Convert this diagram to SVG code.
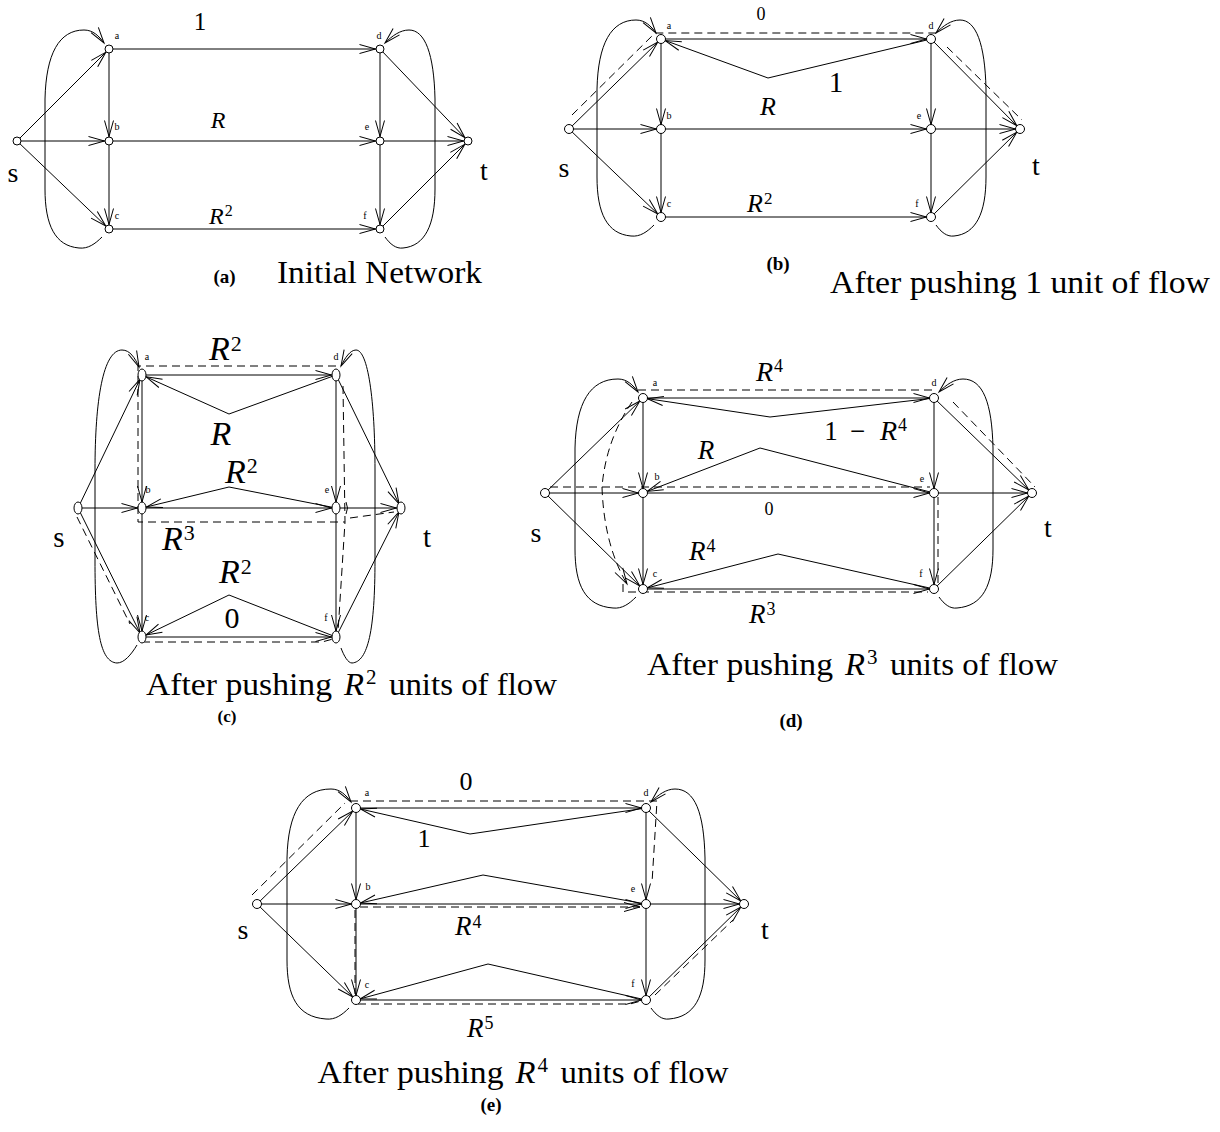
<svg xmlns="http://www.w3.org/2000/svg" width="1220" height="1132" viewBox="0 0 1220 1132">
<style>
.e{fill:none;stroke:#000;stroke-width:1}
.ea{fill:none;stroke:#000;stroke-width:1;marker-end:url(#ah)}
.e6{fill:none;stroke:#000;stroke-width:1;marker-end:url(#ah6)}
.eo{fill:none;stroke:#000;stroke-width:1;marker-end:url(#ah0)}
.dl{fill:none;stroke:#000;stroke-width:1;stroke-dasharray:8 5}
.dlo{fill:none;stroke:#000;stroke-width:1;stroke-dasharray:8 5;marker-end:url(#ah0)}
.n{fill:#fff;stroke:#000;stroke-width:1}
text{font-family:"Liberation Serif","Times New Roman",serif;fill:#000}
.nl{font-size:10px;text-anchor:middle}
.it{font-style:italic}
.bf{font-weight:bold;text-anchor:middle}
.mid{text-anchor:middle}
</style>
<defs>
<marker id="ah" viewBox="-17 -6 22 12" markerWidth="22" markerHeight="12" refX="4.5" refY="0" orient="auto" markerUnits="userSpaceOnUse" overflow="visible"><path d="M-16,-4.5 L0,0 L-16,4.5" fill="none" stroke="#000" stroke-width="1"/></marker>
<marker id="ah6" viewBox="-17 -6 24 12" markerWidth="24" markerHeight="12" refX="6" refY="0" orient="auto" markerUnits="userSpaceOnUse" overflow="visible"><path d="M-16,-4.5 L0,0 L-16,4.5" fill="none" stroke="#000" stroke-width="1"/></marker>
<marker id="ah0" viewBox="-17 -6 18 12" markerWidth="18" markerHeight="12" refX="0" refY="0" orient="auto" markerUnits="userSpaceOnUse" overflow="visible"><path d="M-16,-4.5 L0,0 L-16,4.5" fill="none" stroke="#000" stroke-width="1"/></marker>
</defs>
<rect width="1220" height="1132" fill="#fff"/>

<g id="connectors">
<!-- Panel A -->
<path class="ea" d="M17,141 L109,49"/>
<path class="ea" d="M17,141 L109,141"/>
<path class="ea" d="M17,141 L109,229"/>
<path class="ea" d="M109,49 L109,141"/>
<path class="ea" d="M109,141 L109,229"/>
<path class="ea" d="M109,49 L380,49"/>
<path class="ea" d="M109,141 L380,141"/>
<path class="ea" d="M109,229 L380,229"/>
<path class="ea" d="M380,49 L380,141"/>
<path class="ea" d="M380,141 L380,229"/>
<path class="ea" d="M380,49 L468,141"/>
<path class="ea" d="M380,141 L468,141"/>
<path class="ea" d="M380,229 L468,141"/>
<path class="eo" d="M102,237 C95,244 88,249 79,248 C55,246 45,225 45,189 L45,99 C46,54 59,30 84,30 C93,30 99,36 104,43"/>
<path class="eo" d="M385,237 C390,244 396,249 403,248 C425,246 435,225 435,189 L435,99 C434,54 425,30 409,30 C400,30 392,36 385,43"/>

<!-- Panel B -->
<path class="ea" d="M569,129 L661,39"/>
<path class="ea" d="M569,129 L661,129"/>
<path class="ea" d="M569,129 L661,217"/>
<path class="ea" d="M661,39 L661,129"/>
<path class="ea" d="M661,129 L661,217"/>
<path class="ea" d="M661,39 L931,39"/>
<path class="ea" d="M661,129 L931,129"/>
<path class="ea" d="M661,217 L931,217"/>
<path class="ea" d="M931,39 L931,129"/>
<path class="ea" d="M931,129 L931,217"/>
<path class="ea" d="M931,39 L1020,129"/>
<path class="ea" d="M931,129 L1020,129"/>
<path class="ea" d="M931,217 L1020,129"/>
<path class="ea" d="M931,39 L768,78 L661,39"/>
<path class="eo" d="M654,225 C647,232 640,237 631,236 C607,234 597,213 597,177 L597,89 C598,44 611,20 636,20 C645,20 651,26 656,33"/>
<path class="eo" d="M936,225 C941,232 947,237 954,236 C976,234 986,213 986,177 L986,89 C985,44 976,20 960,20 C951,20 943,26 936,33"/>
<path class="dl" d="M572,115 L655,33 L937,33"/>
<path class="dl" d="M947,47 L1022,120"/>

<!-- Panel C -->
<path class="ea" d="M78,508 L142,375"/>
<path class="ea" d="M78,508 L142,508"/>
<path class="ea" d="M78,508 L142,637"/>
<path class="e6" d="M142,375 L142,508"/>
<path class="e6" d="M142,508 L142,637"/>
<path class="ea" d="M142,375 L336,375"/>
<path class="ea" d="M142,508 L336,508"/>
<path class="ea" d="M142,637 L336,637"/>
<path class="e6" d="M336,375 L336,508"/>
<path class="e6" d="M336,508 L336,637"/>
<path class="ea" d="M336,375 L401,508"/>
<path class="ea" d="M336,508 L401,508"/>
<path class="ea" d="M336,637 L401,508"/>
<path class="ea" d="M336,375 L229,414 L142,375"/>
<path class="ea" d="M336,508 L229,487 L142,508"/>
<path class="ea" d="M336,637 L229,595 L142,637"/>
<path class="eo" d="M137,645 C131,655 124,663 117,663 C100,662 95,630 95,560 L95,470 C95,400 103,350 122,350 C130,350 135,358 139,367"/>
<path class="eo" d="M341,648 C344,656 348,663 352,663 C368,662 375,630 375,560 L375,470 C375,400 368,350 356,350 C350,350 345,358 341,366"/>
<path class="dl" d="M77,517 L130,624"/>
<path class="dl" d="M336,366 L138,366 L138,522 L345,522"/>
<path class="dl" d="M343,386 L345,522 L338,632"/>
<path class="dl" d="M142,642 L322,642 L333,639"/>
<path class="dl" d="M350,518 L394,512"/>
<path class="e" d="M346,502 Q349,508 346,514"/>

<!-- Panel D -->
<path class="ea" d="M545,493 L643,398"/>
<path class="ea" d="M545,493 L643,493"/>
<path class="ea" d="M545,493 L643,589"/>
<path class="ea" d="M643,398 L643,493"/>
<path class="ea" d="M643,493 L643,589"/>
<path class="ea" d="M643,398 L934,398"/>
<path class="ea" d="M643,493 L934,493"/>
<path class="ea" d="M643,589 L934,589"/>
<path class="ea" d="M934,398 L934,493"/>
<path class="ea" d="M934,493 L934,589"/>
<path class="ea" d="M934,398 L1032,493"/>
<path class="ea" d="M934,493 L1032,493"/>
<path class="ea" d="M934,589 L1032,493"/>
<path class="ea" d="M934,398 L770,417 L643,398"/>
<path class="ea" d="M934,493 L760,448 L643,493"/>
<path class="ea" d="M934,589 L778,554 L643,589"/>
<path class="eo" d="M636,597 C629,604 622,609 613,608 C585,606 575,585 575,549 L575,448 C576,403 590,379 618,379 C627,379 633,385 638,392"/>
<path class="eo" d="M939,597 C944,604 950,609 957,608 C983,606 993,585 993,549 L993,448 C992,403 983,379 963,379 C954,379 946,385 939,392"/>
<path class="dl" d="M550,487 L930,487"/>
<path class="dlo" d="M632,402 Q606,440 602,487 Q604,545 627,584"/>
<path class="dl" d="M638,390 L934,390"/>
<path class="dl" d="M938,497 L938,587"/>
<path class="dl" d="M623,584 L623,592 L928,592"/>
<path class="dl" d="M953,402 L1035,487"/>

<!-- Panel E -->
<path class="ea" d="M257,904 L356,808"/>
<path class="ea" d="M257,904 L356,904"/>
<path class="ea" d="M257,904 L356,1000"/>
<path class="ea" d="M356,808 L356,904"/>
<path class="ea" d="M356,904 L356,1000"/>
<path class="ea" d="M356,808 L646,808"/>
<path class="ea" d="M356,904 L646,904"/>
<path class="ea" d="M356,1000 L646,1000"/>
<path class="ea" d="M646,808 L646,904"/>
<path class="ea" d="M646,904 L646,1000"/>
<path class="ea" d="M646,808 L744,904"/>
<path class="ea" d="M646,904 L744,904"/>
<path class="ea" d="M646,1000 L744,904"/>
<path class="ea" d="M646,808 L470,834 L356,808"/>
<path class="ea" d="M646,904 L483,875 L356,904"/>
<path class="ea" d="M646,1000 L488,964 L356,1000"/>
<path class="eo" d="M349,1008 C342,1015 335,1020 326,1019 C297,1017 287,996 287,960 L287,858 C288,813 302,789 331,789 C340,789 346,795 351,802"/>
<path class="eo" d="M651,1008 C656,1015 662,1020 669,1019 C695,1017 705,996 705,960 L705,858 C704,813 695,789 675,789 C666,789 658,795 651,802"/>
<path class="dl" d="M252,895 L345,803"/>
<path class="dl" d="M350,801 L657,801 L652,883"/>
<path class="dlo" d="M360,907 L640,907"/>
<path class="dl" d="M355,910 L355,994"/>
<path class="dl" d="M358,1004 L630,1004 L641,1001"/>
<path class="dl" d="M655,995 L733,920"/>
</g>

<!-- Panel A nodes -->
<g id="pa-s"><circle class="n" cx="17" cy="141" r="4"/><text class="mid" x="13" y="182" font-size="28">s</text></g>
<g id="pa-a"><circle class="n" cx="109" cy="49" r="4"/><text class="nl" x="117" y="39">a</text></g>
<g id="pa-b"><circle class="n" cx="109" cy="141" r="4"/><text class="nl" x="117" y="129.5">b</text></g>
<g id="pa-c"><circle class="n" cx="109" cy="229" r="4"/><text class="nl" x="117" y="218.5">c</text></g>
<g id="pa-d"><circle class="n" cx="380" cy="49" r="4"/><text class="nl" x="379" y="39">d</text></g>
<g id="pa-e"><circle class="n" cx="380" cy="141" r="4"/><text class="nl" x="367" y="129.5">e</text></g>
<g id="pa-f"><circle class="n" cx="380" cy="229" r="4"/><text class="nl" x="365" y="218.5">f</text></g>
<g id="pa-t"><circle class="n" cx="468" cy="141" r="4"/><text class="mid" x="484" y="180" font-size="28">t</text></g>

<!-- Panel B nodes -->
<g id="pb-s"><circle class="n" cx="569" cy="129" r="4.5"/><text class="mid" x="564" y="177" font-size="28">s</text></g>
<g id="pb-a"><circle class="n" cx="661" cy="39" r="4.5"/><text class="nl" x="669" y="28.5">a</text></g>
<g id="pb-b"><circle class="n" cx="661" cy="129" r="4.5"/><text class="nl" x="669" y="119">b</text></g>
<g id="pb-c"><circle class="n" cx="661" cy="217" r="4.5"/><text class="nl" x="669" y="207">c</text></g>
<g id="pb-d"><circle class="n" cx="931" cy="39" r="4.5"/><text class="nl" x="931" y="28.5">d</text></g>
<g id="pb-e"><circle class="n" cx="931" cy="129" r="4.5"/><text class="nl" x="919" y="119">e</text></g>
<g id="pb-f"><circle class="n" cx="931" cy="217" r="4.5"/><text class="nl" x="917" y="207">f</text></g>
<g id="pb-t"><circle class="n" cx="1020" cy="129" r="4.5"/><text class="mid" x="1036" y="175" font-size="28">t</text></g>

<!-- Panel C nodes -->
<g id="pc-s"><ellipse class="n" cx="78" cy="508" rx="4" ry="6"/><text class="mid" x="59" y="547" font-size="29">s</text></g>
<g id="pc-a"><ellipse class="n" cx="142" cy="375" rx="4" ry="6"/><text class="nl" x="147" y="359.5">a</text></g>
<g id="pc-b"><ellipse class="n" cx="142" cy="508" rx="4" ry="6"/><text class="nl" x="148" y="493">b</text></g>
<g id="pc-c"><ellipse class="n" cx="142" cy="637" rx="4" ry="6"/><text class="nl" x="147" y="621">c</text></g>
<g id="pc-d"><ellipse class="n" cx="336" cy="375" rx="4" ry="6"/><text class="nl" x="336" y="359.5">d</text></g>
<g id="pc-e"><ellipse class="n" cx="336" cy="508" rx="4" ry="6"/><text class="nl" x="327" y="493">e</text></g>
<g id="pc-f"><ellipse class="n" cx="336" cy="637" rx="4" ry="6"/><text class="nl" x="326" y="621">f</text></g>
<g id="pc-t"><ellipse class="n" cx="401" cy="508" rx="4" ry="6"/><text class="mid" x="427" y="547" font-size="29">t</text></g>

<!-- Panel D nodes -->
<g id="pd-s"><circle class="n" cx="545" cy="493" r="4.5"/><text class="mid" x="536" y="542" font-size="28">s</text></g>
<g id="pd-a"><circle class="n" cx="643" cy="398" r="4.5"/><text class="nl" x="655" y="386">a</text></g>
<g id="pd-b"><circle class="n" cx="643" cy="493" r="4.5"/><text class="nl" x="657" y="480">b</text></g>
<g id="pd-c"><circle class="n" cx="643" cy="589" r="4.5"/><text class="nl" x="655" y="576.5">c</text></g>
<g id="pd-d"><circle class="n" cx="934" cy="398" r="4.5"/><text class="nl" x="934" y="386">d</text></g>
<g id="pd-e"><circle class="n" cx="934" cy="493" r="4.5"/><text class="nl" x="922" y="481.5">e</text></g>
<g id="pd-f"><circle class="n" cx="934" cy="589" r="4.5"/><text class="nl" x="921" y="576.5">f</text></g>
<g id="pd-t"><circle class="n" cx="1032" cy="493" r="4.5"/><text class="mid" x="1048" y="537" font-size="28">t</text></g>

<!-- Panel E nodes -->
<g id="pe-s"><circle class="n" cx="257" cy="904" r="4.5"/><text class="mid" x="243" y="938.5" font-size="28">s</text></g>
<g id="pe-a"><circle class="n" cx="356" cy="808" r="4.5"/><text class="nl" x="367" y="795.5">a</text></g>
<g id="pe-b"><circle class="n" cx="356" cy="904" r="4.5"/><text class="nl" x="368" y="890">b</text></g>
<g id="pe-c"><circle class="n" cx="356" cy="1000" r="4.5"/><text class="nl" x="367" y="987.5">c</text></g>
<g id="pe-d"><circle class="n" cx="646" cy="808" r="4.5"/><text class="nl" x="646" y="795.5">d</text></g>
<g id="pe-e"><circle class="n" cx="646" cy="904" r="4.5"/><text class="nl" x="633" y="891.5">e</text></g>
<g id="pe-f"><circle class="n" cx="646" cy="1000" r="4.5"/><text class="nl" x="633" y="986.5">f</text></g>
<g id="pe-t"><circle class="n" cx="744" cy="904" r="4.5"/><text class="mid" x="765" y="938.5" font-size="28">t</text></g>

<g id="labels">
<!-- A -->
<text class="mid" x="200" y="30" font-size="25">1</text>
<text class="it mid" x="218" y="128" font-size="24">R</text>
<text x="209" y="224" font-size="24"><tspan class="it">R</tspan><tspan dx="1" dy="-8" font-size="16">2</tspan></text>
<text class="bf" x="224.5" y="283" font-size="19">(a)</text>
<text x="277" y="283" font-size="31" textLength="205" lengthAdjust="spacingAndGlyphs">Initial Network</text>
<!-- B -->
<text class="mid" x="761" y="20" font-size="18">0</text>
<text class="mid" x="836" y="91.5" font-size="29">1</text>
<text class="it mid" x="768" y="115" font-size="26">R</text>
<text x="747" y="211.5" font-size="26"><tspan class="it">R</tspan><tspan dx="1" dy="-8" font-size="17">2</tspan></text>
<text class="bf" x="778" y="270" font-size="19">(b)</text>
<text x="830" y="293" font-size="31" textLength="380" lengthAdjust="spacingAndGlyphs">After pushing 1 unit of flow</text>
<!-- C -->
<text x="209" y="360" font-size="34"><tspan class="it">R</tspan><tspan dx="1" dy="-9" font-size="22">2</tspan></text>
<text class="it mid" x="221" y="445" font-size="34">R</text>
<text x="225" y="482.5" font-size="34"><tspan class="it">R</tspan><tspan dx="1" dy="-10" font-size="22">2</tspan></text>
<text x="162" y="550" font-size="34"><tspan class="it">R</tspan><tspan dx="1" dy="-10" font-size="22">3</tspan></text>
<text x="219" y="583" font-size="34"><tspan class="it">R</tspan><tspan dx="1" dy="-9" font-size="22">2</tspan></text>
<text class="mid" x="232" y="628" font-size="30">0</text>
<text x="146" y="695" font-size="31" textLength="186" lengthAdjust="spacingAndGlyphs">After pushing</text>
<text class="it" x="344" y="695" font-size="31" textLength="20" lengthAdjust="spacingAndGlyphs">R</text><text x="366" y="684" font-size="21">2</text>
<text x="389" y="695" font-size="31" textLength="168" lengthAdjust="spacingAndGlyphs">units of flow</text>
<text class="bf" x="227" y="722" font-size="17">(c)</text>
<!-- D -->
<text x="756" y="381" font-size="28"><tspan class="it">R</tspan><tspan dx="1" dy="-9" font-size="18">4</tspan></text>
<text class="mid" x="831" y="440" font-size="27">1</text>
<text class="mid" x="857.5" y="440" font-size="27">−</text>
<text x="880" y="440" font-size="28"><tspan class="it">R</tspan><tspan dx="1" dy="-9" font-size="18">4</tspan></text>
<text class="it mid" x="706" y="459" font-size="27">R</text>
<text class="mid" x="769" y="515" font-size="18">0</text>
<text x="689" y="560" font-size="27"><tspan class="it">R</tspan><tspan dx="1" dy="-8" font-size="18">4</tspan></text>
<text x="749" y="623" font-size="27"><tspan class="it">R</tspan><tspan dx="1" dy="-8" font-size="18">3</tspan></text>
<text x="647" y="675" font-size="31" textLength="186" lengthAdjust="spacingAndGlyphs">After pushing</text>
<text class="it" x="845" y="675" font-size="31" textLength="20" lengthAdjust="spacingAndGlyphs">R</text><text x="867" y="664" font-size="21">3</text>
<text x="890" y="675" font-size="31" textLength="168" lengthAdjust="spacingAndGlyphs">units of flow</text>
<text class="bf" x="791" y="727" font-size="19">(d)</text>
<!-- E -->
<text class="mid" x="466" y="790" font-size="26">0</text>
<text class="mid" x="424" y="846.5" font-size="26">1</text>
<text x="455" y="935" font-size="27"><tspan class="it">R</tspan><tspan dx="1" dy="-7" font-size="18">4</tspan></text>
<text x="467" y="1036.5" font-size="27"><tspan class="it">R</tspan><tspan dx="1" dy="-7.5" font-size="18">5</tspan></text>
<text x="317.5" y="1083" font-size="31" textLength="186" lengthAdjust="spacingAndGlyphs">After pushing</text>
<text class="it" x="515.5" y="1083" font-size="31" textLength="20" lengthAdjust="spacingAndGlyphs">R</text><text x="537.5" y="1072" font-size="21">4</text>
<text x="560.5" y="1083" font-size="31" textLength="168" lengthAdjust="spacingAndGlyphs">units of flow</text>
<text class="bf" x="491" y="1111" font-size="19">(e)</text>
</g>
</svg>
